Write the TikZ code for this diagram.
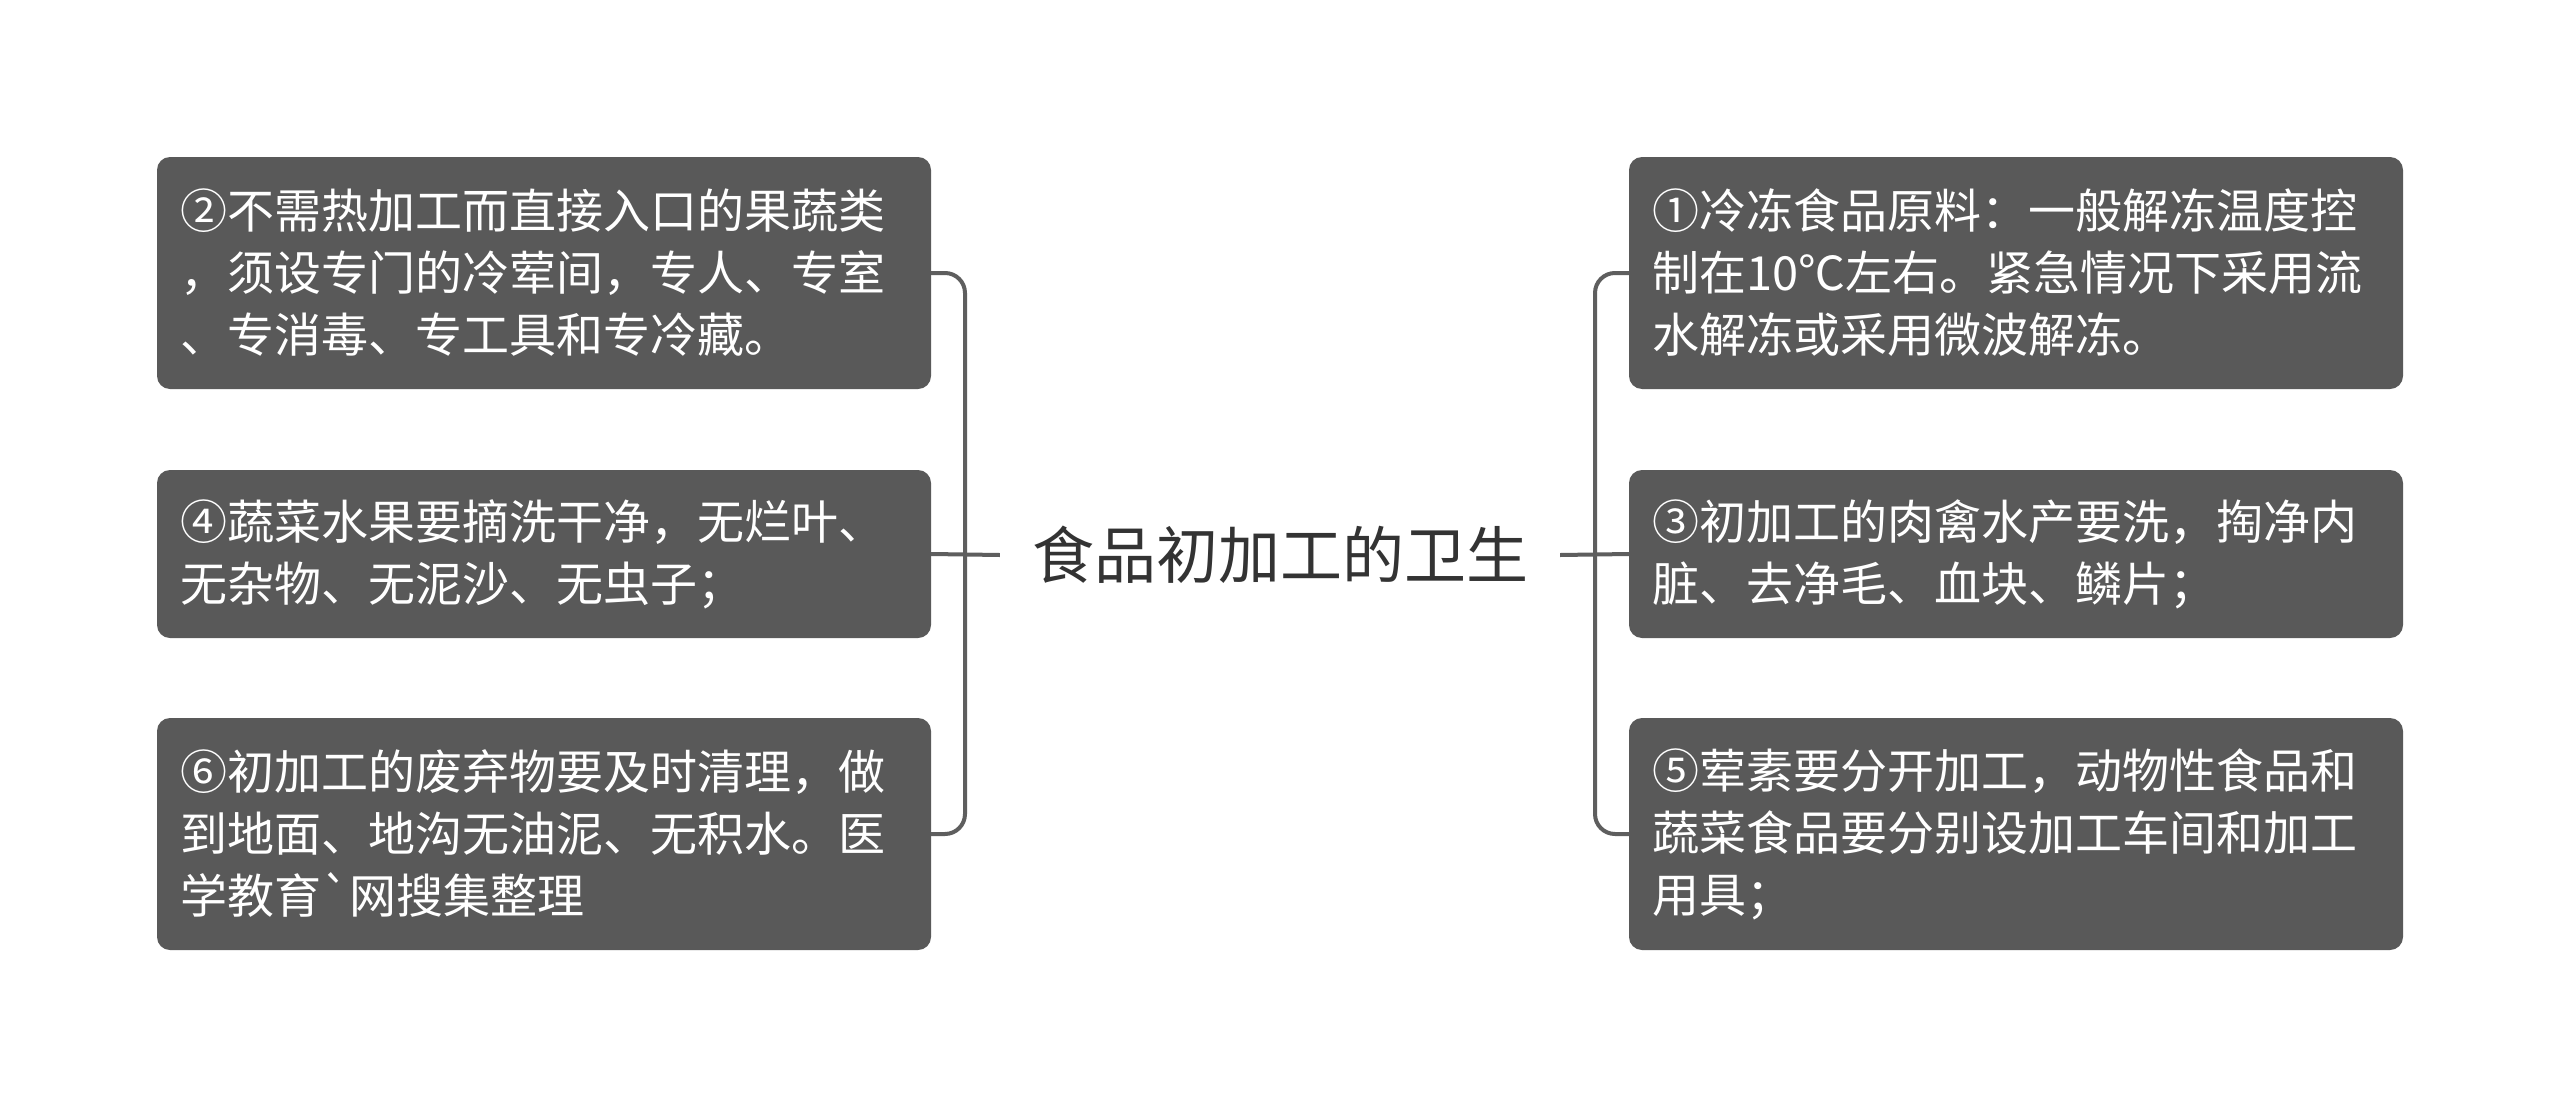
\documentclass[tikz,border=0pt]{standalone}
\usepackage{fontspec}
\setmainfont{Noto Sans CJK SC}
\newfontfamily\cjk{Noto Sans CJK SC}
\definecolor{boxgray}{HTML}{595959}
\definecolor{linegray}{HTML}{5E5E5E}
\definecolor{titlegray}{HTML}{333333}
\begin{document}
\begin{tikzpicture}[x=1pt,y=-1pt,
  topic/.style={fill=boxgray, rounded corners=13pt, text=white, minimum width=774pt,
    text width=728pt, align=left, inner xsep=23pt, inner ysep=0pt,
    font=\cjk\fontsize{47}{62}\selectfont, anchor=center},
  conn/.style={draw=linegray, line width=4pt},
  elbow/.style={conn, rounded corners=20pt},
  title/.style={text=titlegray, font=\cjk\fontsize{62}{70}\selectfont, inner xsep=32pt, inner ysep=10pt}]
\useasboundingbox (0,0) rectangle (2560,1108);
\fill[white] (0,0) rectangle (2560,1108);
\node[title] (c) at (1280,555) {食品初加工的卫生};
\node[topic, minimum height=232pt] (b2) at (544,273) {②不需热加工而直接入口的果蔬类\\，须设专门的冷荤间，专人、专室\\、专消毒、专工具和专冷藏。};
\node[topic, minimum height=168pt] (b4) at (544,554) {④蔬菜水果要摘洗干净，无烂叶、\\无杂物、无泥沙、无虫子；};
\node[topic, minimum height=232pt] (b6) at (544,834) {⑥初加工的废弃物要及时清理，做\\到地面、地沟无油泥、无积水。医\\学教育`网搜集整理};
\node[topic, minimum height=232pt] (b1) at (2016,273) {①冷冻食品原料：一般解冻温度控\\制在10℃左右。紧急情况下采用流\\水解冻或采用微波解冻。};
\node[topic, minimum height=168pt] (b3) at (2016,554) {③初加工的肉禽水产要洗，掏净内\\脏、去净毛、血块、鳞片；};
\node[topic, minimum height=232pt] (b5) at (2016,834) {⑤荤素要分开加工，动物性食品和\\蔬菜食品要分别设加工车间和加工\\用具；};
\coordinate (lj) at (965,555);
\coordinate (rj) at (1595,555);
\draw[conn] (c.west) -- (b4.east);
\draw[elbow] (lj) |- (b2.east);
\draw[elbow] (lj) |- (b6.east);
\draw[conn] (c.east) -- (b3.west);
\draw[elbow] (rj) |- (b1.west);
\draw[elbow] (rj) |- (b5.west);
\end{tikzpicture}
\end{document}
